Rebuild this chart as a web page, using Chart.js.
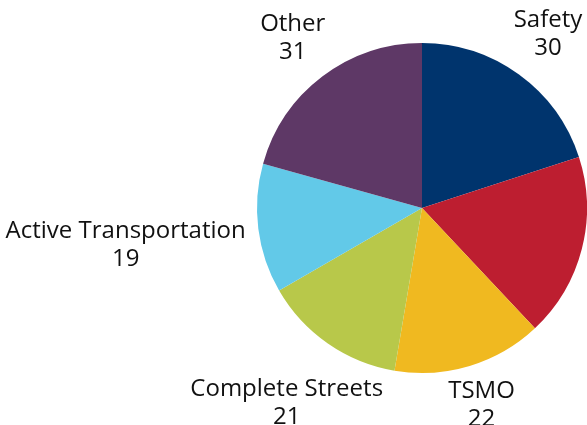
<!DOCTYPE html>
<html lang="en">
<head>
<meta charset="UTF-8" />
<title>Projects by category</title>
<script src="https://cdn.jsdelivr.net/npm/chart.js@4.4.0/dist/chart.umd.min.js"></script>
<style>
  html, body { margin: 0; padding: 0; background: #fff; }
  #wrap { width: 587px; height: 425px; position: relative; }
</style>
</head>
<body>
<div id="wrap"><canvas id="pie"></canvas></div>
<script>
  // Data (clockwise from 12 o'clock)
  const categories = ["Safety", "Transit", "TSMO", "Complete Streets", "Active Transportation", "Other"];
  const counts = [30, 27, 22, 21, 19, 31];
  const sliceColors = ["#00346d", "#bd1e30", "#f0b920", "#b8c84a", "#62c9e8", "#5e3866"];

  const FONT = '24px "Open Sans", sans-serif';
  const LINE_H = 28;
  const CAP_H = 16;  // visible glyph height, used for the label box
  const GAP = 12;

  // Outside labels: box sits on the slice's mid-angle ray, nearest edge GAP px off the arc
  const outsideLabels = {
    id: 'outsideLabels',
    afterDatasetsDraw(chart) {
      const ctx = chart.ctx;
      const meta = chart.getDatasetMeta(0);
      ctx.save();
      ctx.font = FONT;
      ctx.fillStyle = '#111';
      ctx.textAlign = 'center';
      ctx.textBaseline = 'middle';
      meta.data.forEach((arc, i) => {
        const p = arc.getProps(['x', 'y', 'startAngle', 'endAngle', 'outerRadius'], true);
        const mid = (p.startAngle + p.endAngle) / 2;
        const ux = Math.cos(mid), uy = Math.sin(mid);
        const lines = [categories[i], String(counts[i])];
        const w = Math.max(...lines.map(l => ctx.measureText(l).width));
        const h = LINE_H * (lines.length - 1) + CAP_H;
        const target = p.outerRadius + GAP;
        const dist = t => {
          const cx = ux * t, cy = uy * t;
          const dx = Math.max(0, Math.abs(cx) - w / 2);
          const dy = Math.max(0, Math.abs(cy) - h / 2);
          return Math.hypot(dx, dy);
        };
        let lo = 0, hi = 1000;
        for (let k = 0; k < 50; k++) {
          const m = (lo + hi) / 2;
          if (dist(m) < target) lo = m; else hi = m;
        }
        const bx = p.x + ux * lo, by = p.y + uy * lo;
        const top = by - LINE_H * (lines.length - 1) / 2;
        lines.forEach((l, j) => {
          ctx.fillText(l, bx, top + LINE_H * j);
        });
      });
      ctx.restore();
    }
  };

  new Chart(document.getElementById('pie'), {
    type: 'pie',
    data: {
      labels: categories,
      datasets: [{
        data: counts,
        backgroundColor: sliceColors,
        borderWidth: 0
      }]
    },
    options: {
      responsive: true,
      maintainAspectRatio: false,
      animation: false,
      layout: { padding: { top: 43, bottom: 52, left: 257, right: 0 } },
      plugins: { legend: { display: false }, tooltip: { enabled: false } }
    },
    plugins: [outsideLabels]
  });
</script>
</body>
</html>
